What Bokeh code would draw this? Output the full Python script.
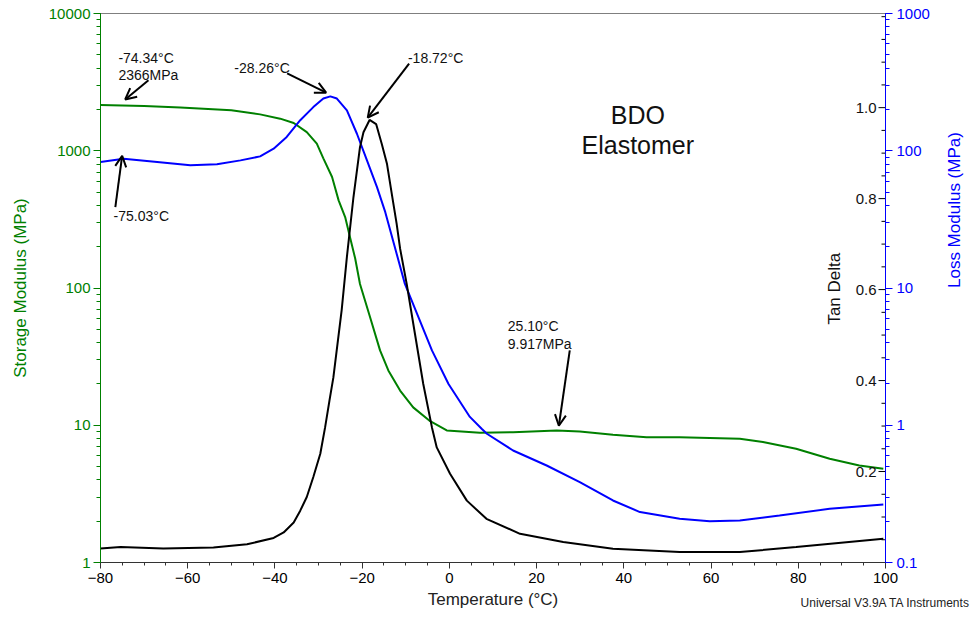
import numpy as np
from bokeh.plotting import figure
from bokeh.models import (Range1d, LogScale, LinearScale, LogAxis, LinearAxis, SingleIntervalTicker,
                          LogTicker, FixedTicker, CustomJSTickFormatter, Label, Arrow, OpenHead, Span)
from bokeh.embed import file_html
from bokeh.resources import INLINE
from bokeh.core.properties import value

GREEN = "#008000"
BLUE = "#0000FF"
FONT = "Liberation Sans"

# ---------------- data ----------------
T_storage = [-80, -70, -61.7, -50, -43.4, -38.8, -35.7, -32.7, -30.4, -28.9, -26.9, -25.4,
             -23.9, -22.8, -21.6, -20.5, -18.2, -15.9, -14.0, -11.3, -8.3, -4.4, -0.6, 7.0,
             14.6, 24.6, 29.9, 37.5, 45.2, 52.8, 66.6, 71.9, 79.5, 87.2, 94.0, 99.5]
E_storage = [2153, 2118, 2062, 1969, 1841, 1713, 1592, 1368, 1126, 881, 644, 435,
             329, 235, 164, 107, 61.4, 35.1, 25.1, 17.9, 13.5, 10.7, 9.16, 8.81,
             8.91, 9.16, 9.02, 8.53, 8.19, 8.19, 7.97, 7.54, 6.74, 5.70, 5.09, 4.82]

T_loss = [-80, -74.7, -67.0, -59.4, -53.3, -47.9, -43.4, -40.3, -37.3, -34.2, -31.2, -28.9,
          -27.3, -25.8, -23.5, -21.2, -18.9, -16.6, -14.7, -10.2, -7.1, -4.0, -0.2, 4.7,
          7.4, 8.6, 14.6, 22.3, 29.9, 37.5, 43.7, 52.8, 59.7, 66.6, 75.7, 87.2, 99.5]
E_loss = [82.8, 87.5, 82.8, 78.3, 79.6, 85.1, 91.0, 103.6, 126, 167, 208, 240,
          249, 240, 197, 133, 85.1, 54.3, 35.7, 10.7, 6.14, 3.51, 2.00, 1.15,
          0.942, 0.867, 0.655, 0.509, 0.385, 0.283, 0.233, 0.208, 0.200, 0.202, 0.220, 0.246, 0.265]

T_tan = [-80, -75.4, -65.6, -54.1, -46.4, -40.3, -38.0, -35.7, -34.2, -32.7, -31.2, -29.6,
         -28.5, -27.5, -26.6, -24.7, -23.5, -22.0, -20.5, -19.7, -18.3, -16.8, -15.5, -14.3,
         -13.2, -12.1, -11.3, -9.8, -7.9, -6.0, -4.0, -2.9, 0.15, 4.0, 8.5, 16.2, 26.1, 37.5,
         52.8, 66.6, 79.5, 99.5]
tan_delta = [0.031, 0.034, 0.031, 0.033, 0.040, 0.054, 0.066, 0.088, 0.114, 0.144, 0.188, 0.239,
             0.297, 0.356, 0.407, 0.555, 0.672, 0.803, 0.913, 0.946, 0.973, 0.964, 0.920, 0.876,
             0.810, 0.745, 0.690, 0.613, 0.503, 0.393, 0.297, 0.253, 0.195, 0.136, 0.096, 0.063,
             0.045, 0.030, 0.023, 0.023, 0.034, 0.052]

tan_major = [0.2, 0.4, 0.6, 0.8, 1.0]
tan_major_labels = ["0.2", "0.4", "0.6", "0.8", "1.0"]
tan_minor = [0.05, 0.1, 0.15, 0.25, 0.3, 0.35, 0.45, 0.5, 0.55, 0.65, 0.7, 0.75,
             0.85, 0.9, 0.95, 1.05, 1.1, 1.15, 1.2]

# ---------------- figure ----------------
X0, X1 = -80, 100
p = figure(width=976, height=617, output_backend="svg", toolbar_location=None, title=None,
           x_range=Range1d(X0, X1), y_range=Range1d(1, 10000), y_axis_type="log",
           min_border_left=100, min_border_right=90, min_border_top=13, min_border_bottom=55)
p.extra_y_ranges = {"loss": Range1d(0.1, 1000), "tan": Range1d(0, 1.207)}
p.extra_y_scales = {"loss": LogScale(), "tan": LinearScale()}
p.xgrid.visible = False
p.ygrid.visible = False
p.outline_line_color = None
p.background_fill_color = "white"

fmt = CustomJSTickFormatter(code="return tick.toString();")

# bottom axis
xa = p.xaxis[0]
xa.ticker = SingleIntervalTicker(interval=20, num_minor_ticks=4)
xa.axis_line_color = "#333333"
xa.major_tick_line_color = "#333333"
xa.minor_tick_line_color = "#333333"
xa.major_tick_in = 0
xa.major_tick_out = 6
xa.minor_tick_in = 0
xa.minor_tick_out = 3
xa.major_label_standoff = 4
xa.major_label_text_font = FONT
xa.major_label_text_font_size = "15px"
xa.major_label_text_color = "black"
xa.axis_label = "Temperature (°C)"
xa.axis_label_text_font = FONT
xa.axis_label_text_font_size = "17px"
xa.axis_label_text_font_style = "normal"
xa.axis_label_text_color = "#222222"
xa.axis_label_standoff = 4

# credit line, carried by a bare second bottom axis
ca = LinearAxis(ticker=FixedTicker(ticks=[]), axis_line_color=None,
                major_tick_in=0, major_tick_out=0, minor_tick_in=0, minor_tick_out=0,
                major_label_standoff=0, major_label_text_font_size="1px")
ca.axis_label = "Universal V3.9A TA Instruments"
ca.axis_label_align = "end"
ca.axis_label_text_font = FONT
ca.axis_label_text_font_size = "12px"
ca.axis_label_text_font_style = "normal"
ca.axis_label_text_color = "#222222"
ca.axis_label_standoff = -16
p.add_layout(ca, "below")

# left axis (storage)
ya = p.yaxis[0]
ya.ticker = LogTicker(num_minor_ticks=10)
ya.formatter = fmt
ya.axis_line_color = GREEN
ya.major_tick_line_color = GREEN
ya.minor_tick_line_color = GREEN
ya.major_tick_in = 0
ya.major_tick_out = 7
ya.minor_tick_in = 0
ya.minor_tick_out = 4
ya.major_label_standoff = 3
ya.major_label_text_font = FONT
ya.major_label_text_font_size = "15px"
ya.major_label_text_color = GREEN
ya.axis_label = "Storage Modulus (MPa)"
ya.axis_label_text_font = FONT
ya.axis_label_text_font_size = "17px"
ya.axis_label_text_font_style = "normal"
ya.axis_label_text_color = GREEN
ya.axis_label_standoff = 16

# right axis (loss)
ra = LogAxis(y_range_name="loss", ticker=LogTicker(num_minor_ticks=10), formatter=fmt)
ra.axis_line_color = BLUE
ra.major_tick_line_color = BLUE
ra.minor_tick_line_color = BLUE
ra.major_tick_in = 0
ra.major_tick_out = 7
ra.minor_tick_in = 0
ra.minor_tick_out = 4
ra.major_label_standoff = 4
ra.major_label_text_font = FONT
ra.major_label_text_font_size = "15px"
ra.major_label_text_color = BLUE
ra.axis_label = "Loss Modulus (MPa)"
ra.axis_label_text_font = FONT
ra.axis_label_text_font_size = "17px"
ra.axis_label_text_font_style = "normal"
ra.axis_label_text_color = BLUE
ra.axis_label_standoff = 22
ra.axis_label_orientation = np.pi / 2
p.add_layout(ra, "right")

# top frame line
p.add_layout(Span(location=10000, dimension="width", line_color="black", line_width=1))

# ---------------- curves ----------------
p.line(T_storage, E_storage, line_color=GREEN, line_width=2)
p.line(T_loss, E_loss, line_color=BLUE, line_width=2, y_range_name="loss")
p.line(T_tan, tan_delta, line_color="black", line_width=2, y_range_name="tan")

# tan delta inner axis
p.ray(x=[X1] * len(tan_major), y=tan_major, length=7, length_units="screen", angle=np.pi,
      line_color="black", line_width=1, y_range_name="tan")
p.ray(x=[X1] * len(tan_minor), y=tan_minor, length=4, length_units="screen", angle=np.pi,
      line_color="black", line_width=1, y_range_name="tan")
p.text(x=[X1] * len(tan_major), y=tan_major, text=tan_major_labels, x_offset=-9,
       text_align="right", text_baseline="middle", text_font=value(FONT),
       text_font_size="15px", text_color="#111111", y_range_name="tan")
p.add_layout(Label(x=88.3, y=0.602, text="Tan Delta", angle=np.pi / 2, angle_units="rad",
                   text_align="center", text_baseline="middle", text_font=FONT,
                   text_font_size="17px", text_color="#111111", y_range_name="tan"))

# ---------------- annotations ----------------
def arrow(x0, y0, x1, y1, rng="default"):
    p.add_layout(Arrow(end=OpenHead(size=11, line_width=2, line_color="black"),
                       x_start=x0, y_start=y0, x_end=x1, y_end=y1,
                       line_color="black", line_width=2, y_range_name=rng))

def label(x, y, text, align="left", baseline="top", rng="default", size="14px"):
    p.add_layout(Label(x=x, y=y, text=text, text_align=align, text_baseline=baseline,
                       text_font=FONT, text_font_size=size, text_color="#111111",
                       text_line_height=1.08, y_range_name=rng))

# -74.34°C storage
label(-75.9, 5400, "-74.34°C\n2366MPa")
arrow(-69.0, 3258, -74.34, 2366)
# -75.03°C loss
label(-77.0, 332, "-75.03°C", baseline="middle")
arrow(-76.6, 38.9, -75.03, 92, rng="loss")
# -28.26°C loss peak
label(-36.6, 4018, "-28.26°C", align="right", baseline="middle")
arrow(-37.2, 366, -28.26, 265, rng="loss")
# -18.72°C tan delta peak
label(-9.5, 4755, "-18.72°C", baseline="middle")
arrow(-9.24, 1.097, -18.72, 0.978, rng="tan")
# 25.10°C storage
label(13.4, 60, "25.10°C\n9.917MPa")
arrow(27.6, 35.1, 25.10, 9.917)

# sample name
label(43.2, 1811, "BDO", align="center", baseline="middle", size="25px")
label(43.2, 1094, "Elastomer", align="center", baseline="middle", size="25px")

open("out.html", "w").write(file_html(p, INLINE))
